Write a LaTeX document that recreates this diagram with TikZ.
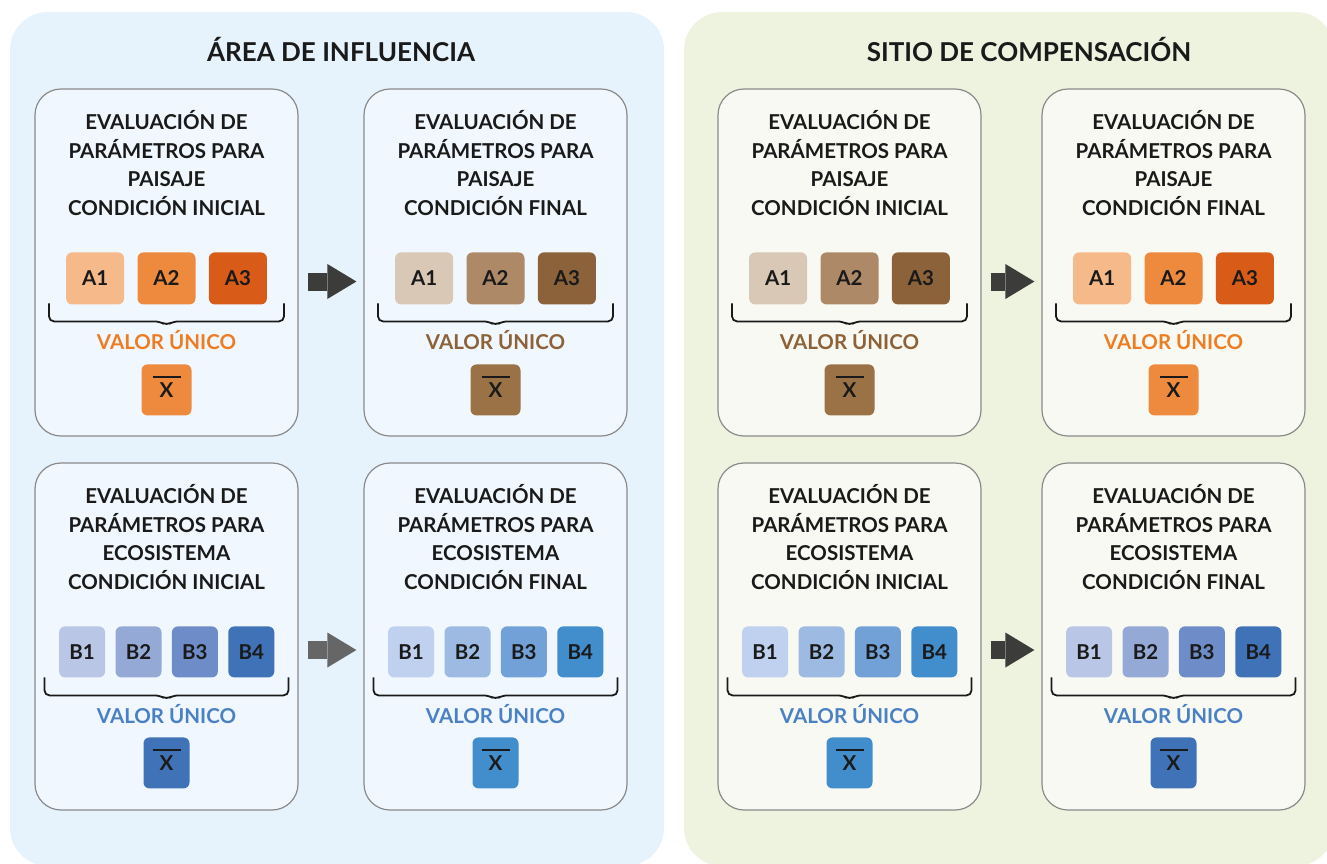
\documentclass[tikz,border=0pt]{standalone}
\usepackage{fontspec}
\setmainfont{Lato}
\usetikzlibrary{positioning,calc,arrows.meta}
\definecolor{panelblue}{HTML}{E6F3FD}
\definecolor{panelgreen}{HTML}{EEF3DF}
\definecolor{cardblue}{HTML}{F0F7FE}
\definecolor{cardgreen}{HTML}{F8F9F2}
\definecolor{cardline}{HTML}{8A8A8A}
\definecolor{ink}{HTML}{1A1A1A}
\definecolor{or1}{HTML}{F6B98A}
\definecolor{or2}{HTML}{EE8A3E}
\definecolor{or3}{HTML}{D85B17}
\definecolor{orx}{HTML}{EE8A3E}
\definecolor{orlabel}{HTML}{EE7D22}
\definecolor{br1}{HTML}{D9C8B5}
\definecolor{br2}{HTML}{AD8967}
\definecolor{br3}{HTML}{8B6239}
\definecolor{brx}{HTML}{9A7245}
\definecolor{brlabel}{HTML}{8D6239}
\definecolor{in1}{HTML}{BAC6E6}
\definecolor{in2}{HTML}{95A9D6}
\definecolor{in3}{HTML}{6E8DC8}
\definecolor{in4}{HTML}{3F72B6}
\definecolor{sk1}{HTML}{BFD1EE}
\definecolor{sk2}{HTML}{9DBAE2}
\definecolor{sk3}{HTML}{71A1D7}
\definecolor{sk4}{HTML}{428DCC}
\definecolor{bllabel}{HTML}{4A80C4}
\definecolor{arrowdark}{HTML}{3C3C3B}
\definecolor{arrowgray}{HTML}{666666}
\tikzset{
    panel/.style = {
        rounded corners=38pt,
        },
    heading/.style = {
        anchor=base,
        text=ink,
        font=\fontsize{26}{30}\selectfont\bfseries,
        },
    card/.style = {
        draw=cardline,
        line width=1.2pt,
        rounded corners=26pt,
        minimum width=263pt,
        minimum height=347pt,
        inner sep=0pt,
        },
    cardtext/.style = {
        align=center,
        inner sep=0pt,
        text=ink,
        font=\fontsize{20.5}{28.5}\selectfont\bfseries,
        },
    sqa/.style = {
        rounded corners=6pt,
        minimum width=58pt,
        minimum height=52pt,
        inner sep=0pt,
        text=ink,
        font=\fontsize{20.5}{22}\selectfont\bfseries,
        },
    sqb/.style = {
        sqa,
        minimum width=46pt,
        minimum height=51pt,
        },
    xbar/.style = {
        sqa,
        minimum height=51pt,
        },
    xline/.style = {
        draw=ink,
        line width=1.8pt,
        },
    valor/.style = {
        anchor=base,
        inner sep=0pt,
        font=\fontsize{20.5}{22}\selectfont\bfseries,
        },
    capbrace/.style = {
        draw=ink,
        line width=1.8pt,
        rounded corners=5pt,
        },
    flow/.style = {
        line width=18pt,
        shorten <=9pt,
        shorten >=7pt,
        -{Triangle[length=29pt,width=35pt,line width=0pt]},
        },
}

\begin{document}
\begin{tikzpicture}[x=1pt,y=-1pt]
    \useasboundingbox (0,0) rectangle (1327,863);
    \fill[panelblue, panel] (10,12) rectangle (664,866);
    \fill[panelgreen, panel] (684,12) rectangle (1334,866);
    \node[heading] (area) at (341,61) {ÁREA DE INFLUENCIA};
    \node[heading] (sitio) at (1029,61) {SITIO DE COMPENSACIÓN};

    % paisaje
    \foreach \nm/\cx/\bg/\cond/\pal/\lab/\xc in {
        ai/166.5/cardblue/INICIAL/or/orlabel/orx,
        af/495.5/cardblue/FINAL/br/brlabel/brx,
        si/849.5/cardgreen/INICIAL/br/brlabel/brx,
        sf/1173.5/cardgreen/FINAL/or/orlabel/orx}{
        \node[card, fill=\bg] (\nm) at (\cx,262.5) {};
        \node[cardtext] (\nm-t) at ($(\nm.north)+(0,74.5)$) {EVALUACIÓN DE\\PARÁMETROS PARA\\PAISAJE\\CONDICIÓN \cond};
        \node[sqa, fill=\pal2] (\nm-2) at ($(\nm.north)+(0,190)$) {A2};
        \node[sqa, fill=\pal1, left=13pt of \nm-2] (\nm-1) {A1};
        \node[sqa, fill=\pal3, right=13pt of \nm-2] (\nm-3) {A3};
        \draw[capbrace] ($(\nm.north)+(-117.5,215)$) |- ($(\nm.north)+(-7,233)$)
            -- ++(7,4) -- ++(7,-4) -| ($(\nm.north)+(117.5,215)$);
        \node[valor, text=\lab] (\nm-v) at ($(\nm.north)+(0,261.5)$) {VALOR ÚNICO};
        \node[xbar, fill=\xc, minimum width=50pt] (\nm-x) at ($(\nm.north)+(0,301.5)$) {X};
        \draw[xline] ($(\nm-x.center)+(-14,-13)$) -- ++(28,0);
    }

    % ecosistema
    \foreach \nm/\cx/\bg/\cond/\pal in {
        ei/166.5/cardblue/INICIAL/in,
        ef/495.5/cardblue/FINAL/sk,
        ti/849.5/cardgreen/INICIAL/sk,
        tf/1173.5/cardgreen/FINAL/in}{
        \node[card, fill=\bg] (\nm) at (\cx,636.5) {};
        \node[cardtext] (\nm-t) at ($(\nm.north)+(0,74.5)$) {EVALUACIÓN DE\\PARÁMETROS PARA\\ECOSISTEMA\\CONDICIÓN \cond};
        \node[sqb, fill=\pal2] (\nm-2) at ($(\nm.north)+(-28,189.5)$) {B2};
        \node[sqb, fill=\pal3, right=10pt of \nm-2] (\nm-3) {B3};
        \node[sqb, fill=\pal1, left=10pt of \nm-2] (\nm-1) {B1};
        \node[sqb, fill=\pal4, right=10pt of \nm-3] (\nm-4) {B4};
        \draw[capbrace] ($(\nm.north)+(-122,215)$) |- ($(\nm.north)+(-7,233)$)
            -- ++(7,4) -- ++(7,-4) -| ($(\nm.north)+(122,215)$);
        \node[valor, text=bllabel] (\nm-v) at ($(\nm.north)+(0,261.5)$) {VALOR ÚNICO};
        \node[xbar, fill=\pal4, minimum width=46pt] (\nm-x) at ($(\nm.north)+(0,300.5)$) {X};
        \draw[xline] ($(\nm-x.center)+(-14,-13)$) -- ++(28,0);
    }

    \draw[flow, arrowdark] ($(ai.east)+(0,19)$) -- ($(af.west)+(0,19)$);
    \draw[flow, arrowgray] ($(ei.east)+(0,13.5)$) -- ($(ef.west)+(0,13.5)$);
    \draw[flow, arrowdark] ($(si.east)+(0,19)$) -- ($(sf.west)+(0,19)$);
    \draw[flow, arrowdark] ($(ti.east)+(0,13.5)$) -- ($(tf.west)+(0,13.5)$);
\end{tikzpicture}
\end{document}
